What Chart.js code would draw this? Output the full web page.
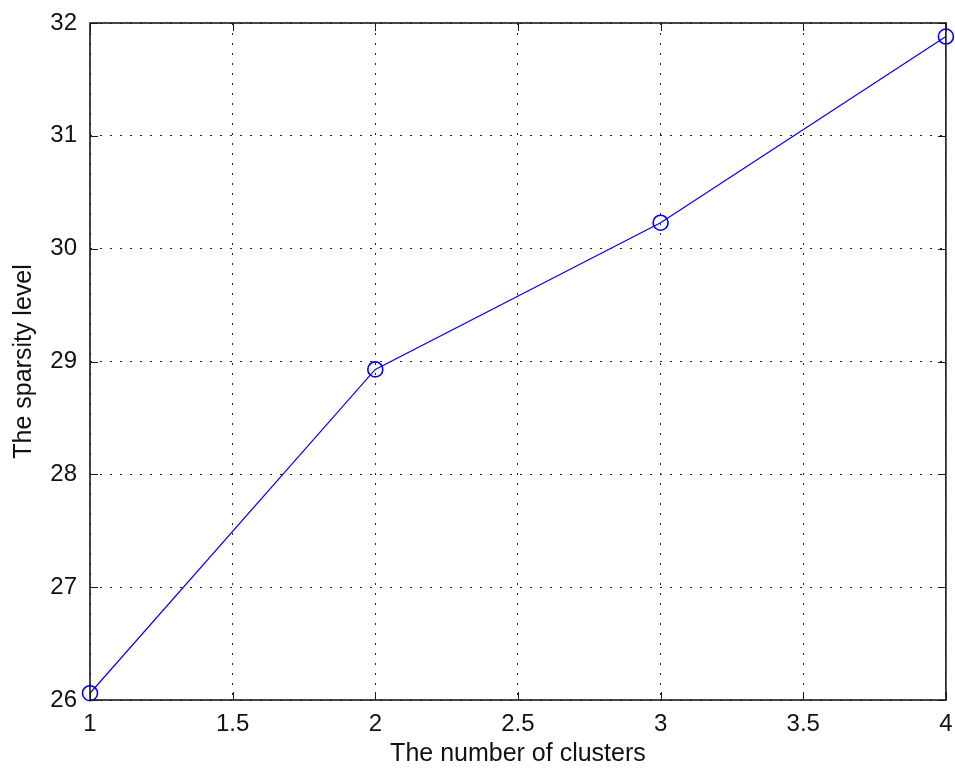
<!DOCTYPE html>
<html>
<head>
<meta charset="utf-8">
<title>Sparsity level vs number of clusters</title>
<script src="https://cdn.jsdelivr.net/npm/chart.js@4/dist/chart.umd.min.js"></script>
<style>
  html, body { margin: 0; padding: 0; background: #fff; }
  canvas { display: block; }
</style>
</head>
<body>
<canvas id="c" width="955" height="769"></canvas>
<script>
// Number of clusters and the resulting sparsity level
const clusters = [1, 2, 3, 4];
const sparsity = [26.06, 28.93, 30.23, 31.88];

const xTicks = [1, 1.5, 2, 2.5, 3, 3.5, 4];
const yTicks = [26, 27, 28, 29, 30, 31, 32];

const xTitle = 'The number of clusters';
const yTitle = 'The sparsity level';

const FONT = '"Liberation Sans", Arial, sans-serif';

// Draws the box around the axes plus inward tick marks on all four sides
const frameAndTicks = {
  id: 'frameAndTicks',
  afterDatasetsDraw(chart) {
    const { ctx, chartArea: a, scales } = chart;
    const len = 8;
    ctx.save();
    ctx.strokeStyle = '#1a1a1a';
    ctx.lineWidth = 1;
    ctx.beginPath();
    scales.x.ticks.forEach(t => {
      const px = Math.round(scales.x.getPixelForValue(t.value)) + 0.5;
      ctx.moveTo(px, a.bottom); ctx.lineTo(px, a.bottom - len);
      ctx.moveTo(px, a.top); ctx.lineTo(px, a.top + len);
    });
    scales.y.ticks.forEach(t => {
      const py = Math.round(scales.y.getPixelForValue(t.value)) + 0.5;
      ctx.moveTo(a.left, py); ctx.lineTo(a.left + len, py);
      ctx.moveTo(a.right, py); ctx.lineTo(a.right - len, py);
    });
    ctx.stroke();
    ctx.lineWidth = 1.6;
    ctx.strokeRect(a.left, a.top, a.right - a.left, a.bottom - a.top);
    ctx.restore();
  }
};

const whiteBg = {
  id: 'whiteBg',
  beforeDraw(chart) {
    const { ctx, width, height } = chart;
    ctx.save();
    ctx.fillStyle = '#fff';
    ctx.fillRect(0, 0, width, height);
    ctx.restore();
  }
};

new Chart(document.getElementById('c'), {
  type: 'line',
  data: {
    datasets: [{
      data: clusters.map((c, i) => ({ x: c, y: sparsity[i] })),
      borderColor: '#0000ff',
      borderWidth: 1.2,
      tension: 0,
      fill: false,
      pointStyle: 'circle',
      pointRadius: 7.5,
      pointBorderWidth: 1.6,
      pointBorderColor: '#0000ff',
      pointBackgroundColor: 'rgba(0,0,0,0)',
      clip: false
    }]
  },
  options: {
    responsive: false,
    animation: false,
    devicePixelRatio: 1,
    layout: { padding: { top: 23, right: 0, left: 0, bottom: 0 } },
    plugins: { legend: { display: false }, tooltip: { enabled: false } },
    scales: {
      x: {
        type: 'linear',
        min: 1, max: 4,
        afterBuildTicks(scale) { scale.ticks = xTicks.map(v => ({ value: v })); },
        afterFit(scale) {
          scale.height = 69;
          scale.paddingLeft = 0; scale.paddingRight = 6;
        },
        grid: { color: '#222', lineWidth: 1, drawTicks: false },
        border: { display: false, dash: [2, 8] },
        ticks: {
          color: '#111', padding: 10,
          font: { family: FONT, size: 24 },
          maxRotation: 0, autoSkip: false,
          callback: v => String(v)
        },
        title: {
          display: true, text: xTitle, color: '#111',
          font: { family: FONT, size: 25 },
          padding: { top: 0, bottom: 0 }
        }
      },
      y: {
        type: 'linear',
        min: 26, max: 32,
        afterBuildTicks(scale) { scale.ticks = yTicks.map(v => ({ value: v })); },
        afterFit(scale) {
          scale.width = 90;
          scale.paddingTop = 0; scale.paddingBottom = 0;
        },
        grid: { color: '#222', lineWidth: 1, drawTicks: false },
        border: { display: false, dash: [2, 8] },
        ticks: {
          color: '#111', padding: 13,
          font: { family: FONT, size: 24 },
          autoSkip: false,
          callback: v => String(v)
        },
        title: {
          display: true, text: yTitle, color: '#111',
          font: { family: FONT, size: 25 },
          padding: { top: 9, bottom: 0 }
        }
      }
    }
  },
  plugins: [whiteBg, frameAndTicks]
});
</script>
</body>
</html>
